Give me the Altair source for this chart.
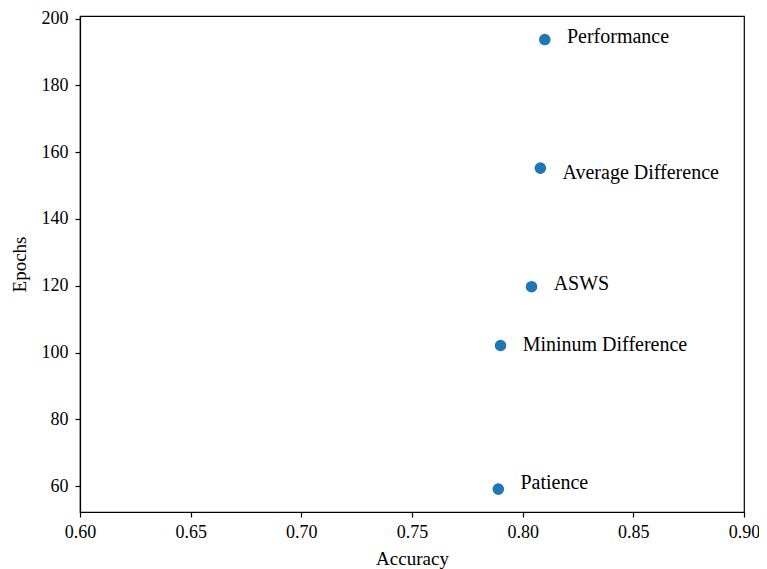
import altair as alt
import pandas as pd

methods = ["Performance", "Average Difference", "ASWS", "Mininum Difference", "Patience"]
accuracy = [0.810, 0.808, 0.804, 0.790, 0.789]
epochs = [193.7, 155.2, 119.7, 102.1, 59.1]
label_epochs = [194.6, 153.8, 120.6, 102.1, 60.9]

df = pd.DataFrame({"method": methods, "accuracy": accuracy, "epochs": epochs,
                   "label_acc": [a + 0.01 for a in accuracy], "label_epochs": label_epochs})

FONT = "Liberation Serif"
xs = alt.Scale(domain=[0.60, 0.90], nice=False, zero=False)
ys = alt.Scale(domain=[52.25, 200.75], nice=False, zero=False)

common = dict(grid=False, domainColor="black", tickColor="black", tickSize=5, tickWidth=1.2,
              domainWidth=1.2, labelFontSize=18, titleFontSize=19, labelColor="black",
              titleColor="black", titleFontWeight="normal", labelFont=FONT, titleFont=FONT,
              labelFlush=False, labelOverlap=False)

xaxis = alt.Axis(values=[0.60, 0.65, 0.70, 0.75, 0.80, 0.85, 0.90], format=".2f",
                 labelPadding=6, titlePadding=8, **common)
yaxis = alt.Axis(values=[60, 80, 100, 120, 140, 160, 180, 200],
                 labelPadding=7, titlePadding=12, **common)

points = alt.Chart(df).mark_circle(size=135, opacity=1, color="#1f77b4").encode(
    x=alt.X("accuracy:Q", scale=xs, axis=xaxis, title="Accuracy"),
    y=alt.Y("epochs:Q", scale=ys, axis=yaxis, title="Epochs"),
)

labels = alt.Chart(df).mark_text(align="left", baseline="middle", font=FONT, fontSize=20,
                                 color="black").encode(
    x=alt.X("label_acc:Q", scale=xs),
    y=alt.Y("label_epochs:Q", scale=ys),
    text="method:N",
)

chart = (points + labels).properties(
    width=664, height=496,
    autosize=alt.AutoSizeParams(type="none"),
    padding={"left": 72, "top": 8, "right": 15, "bottom": 57},
).configure(background="white", view=alt.ViewConfig(stroke="black", strokeWidth=1.2))

chart.save("out.html", embed_options={"renderer": "svg", "actions": False})
